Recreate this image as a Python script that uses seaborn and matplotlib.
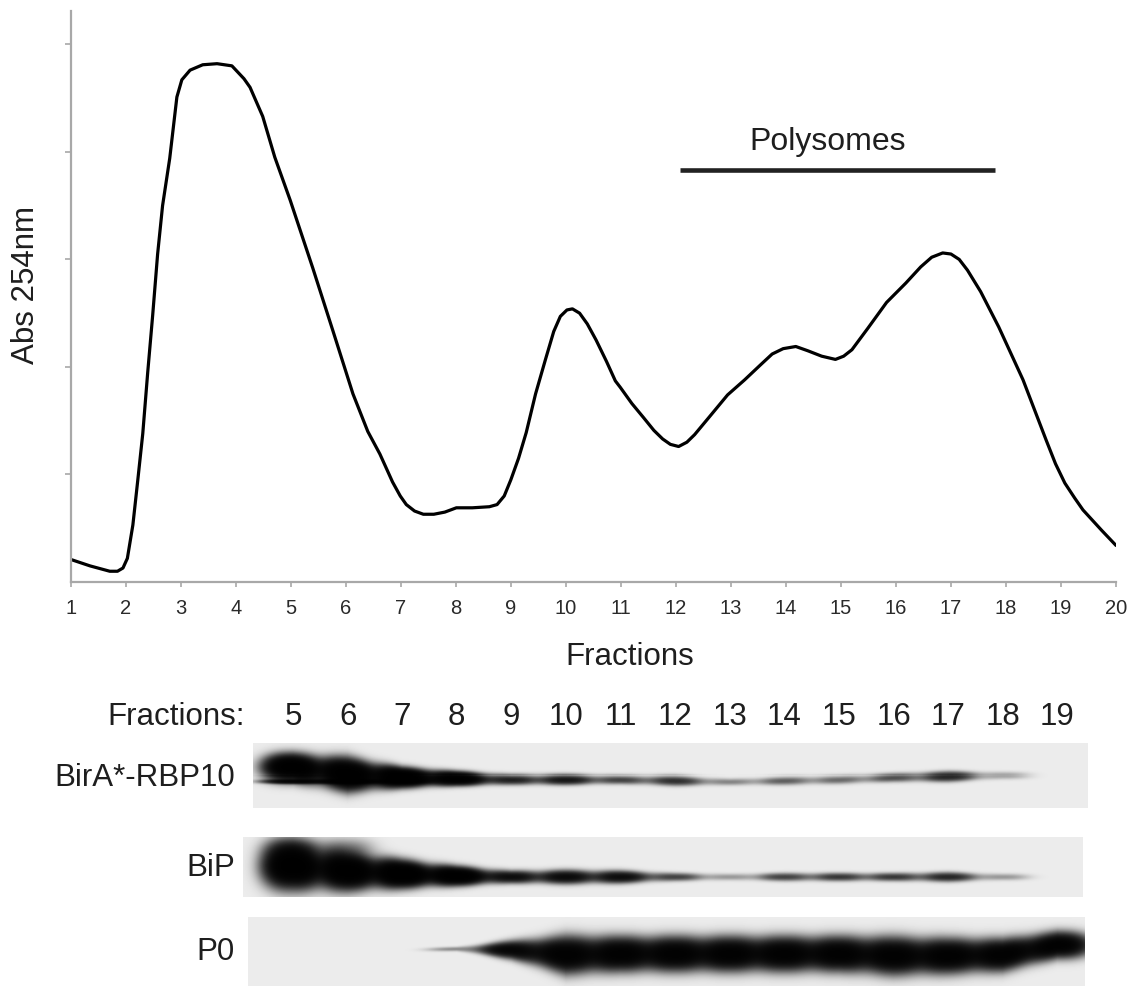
import numpy as np
import pandas as pd
import matplotlib
matplotlib.use("Agg")
import matplotlib.pyplot as plt
import matplotlib.transforms as mtransforms
import seaborn as sns

# ---------------- data ----------------
fraction = [1.00, 1.35, 1.71, 1.85, 1.95, 2.03, 2.13, 2.22, 2.31, 2.40, 2.49, 2.58, 2.67,
            2.80, 2.93, 3.02, 3.17, 3.40, 3.66, 3.93, 4.04, 4.15, 4.26, 4.49, 4.71, 4.99,
            5.40, 5.77, 6.13, 6.40, 6.62, 6.85, 6.99, 7.10, 7.25, 7.41, 7.60, 7.80, 8.01,
            8.30, 8.61, 8.75, 8.88, 9.00, 9.14, 9.28, 9.45, 9.63, 9.78, 9.90, 10.02, 10.12,
            10.25, 10.39, 10.55, 10.74, 10.90, 10.99, 11.20, 11.41, 11.60, 11.76, 11.90,
            12.05, 12.20, 12.34, 12.60, 12.94, 13.25, 13.54, 13.75, 13.95, 14.18, 14.40,
            14.65, 14.90, 15.05, 15.20, 15.49, 15.83, 16.18, 16.45, 16.65, 16.85, 17.00,
            17.15, 17.30, 17.54, 17.87, 18.31, 18.73, 18.90, 19.07, 19.25, 19.40, 19.74, 20.00]
absorbance = [0.21, 0.15, 0.10, 0.10, 0.13, 0.22, 0.53, 0.95, 1.38, 1.95, 2.48, 3.05, 3.50,
              3.94, 4.51, 4.67, 4.76, 4.81, 4.82, 4.80, 4.74, 4.68, 4.60, 4.33, 3.95, 3.55,
              2.92, 2.33, 1.75, 1.40, 1.19, 0.93, 0.80, 0.72, 0.66, 0.63, 0.63, 0.65, 0.69,
              0.69, 0.70, 0.72, 0.80, 0.95, 1.15, 1.39, 1.75, 2.07, 2.33, 2.47, 2.53, 2.54,
              2.50, 2.40, 2.25, 2.05, 1.87, 1.81, 1.66, 1.53, 1.41, 1.33, 1.28,
              1.26, 1.30, 1.37, 1.53, 1.74, 1.88, 2.02, 2.12, 2.17, 2.19, 2.15,
              2.10, 2.07, 2.10, 2.16, 2.36, 2.60, 2.78, 2.93, 3.02, 3.06, 3.05,
              3.00, 2.90, 2.70, 2.37, 1.88, 1.32, 1.10, 0.92, 0.78, 0.67, 0.48, 0.34]

x_ticks = list(range(1, 21))
polysome_range = [12.08, 17.80]
polysome_label = "Polysomes"

blot_lanes = list(range(5, 20))
blot_names = ["BirA*-RBP10", "BiP", "P0"]
# relative band intensity per lane (5..19)
birA_intensity = [1.80, 1.80, 2.00, 1.60, 0.55, 0.65, 0.35, 0.45, 0.16, 0.25, 0.22, 0.30, 0.50, 0.10, 0.00]
birA_lower_intensity = [0.80, 1.00, 0.50, 0, 0, 0, 0, 0, 0, 0, 0, 0, 0, 0, 0]
bip_intensity = [1.80, 1.80, 2.00, 1.80, 0.80, 0.85, 0.80, 0.35, 0.12, 0.35, 0.40, 0.40, 0.50, 0.12, 0.00]
bip_smear_intensity = [0.25, 0.15, 0, 0, 0, 0, 0, 0, 0, 0, 0, 0, 0, 0, 0]
p0_intensity = [0.00, 0.00, 0.00, 0.14, 1.00, 1.30, 1.30, 1.30, 1.30, 1.30, 1.30, 1.30, 1.30, 1.30, 1.30]
# band centre (px below panel top) and half thickness per lane
birA_center = [25, 32, 35, 36, 37, 37, 37, 38, 39, 38, 37, 35, 34, 33, 33]
birA_half = [10, 12, 7, 5, 4, 4, 3.5, 4, 3, 3.5, 3.5, 3.5, 4, 3, 3]
bip_center = [29, 34, 37, 39, 40, 40, 40, 40, 40, 40, 40, 40, 40, 40, 40]
bip_half = [17, 14, 10, 7, 5, 5.5, 5, 3.5, 3, 3.5, 3.5, 3.5, 4, 3, 3]
p0_center = [33, 33, 33, 32, 33, 38, 37, 37, 37, 37, 37, 39, 39, 38, 28]
p0_half = [2, 2, 2, 2, 7, 14, 13, 13, 13, 13, 13, 14, 13, 12, 10]

# ---------------- style ----------------
sns.set_theme(style="white")
plt.rcParams["font.family"] = ["Liberation Sans", "DejaVu Sans"]
txt_col = "#1e1e1e"
spine_col = "#a8a8a8"

W, H = 1131, 986
fig = plt.figure(figsize=(W / 100, H / 100), dpi=100)

def fr(x0, y0, x1, y1):
    return [x0 / W, 1 - y1 / H, (x1 - x0) / W, (y1 - y0) / H]

# ---------------- profile ----------------
ax = fig.add_axes(fr(70.7, 11, 1116, 582))
df = pd.DataFrame({"Fraction": fraction, "Abs": absorbance})
sns.lineplot(data=df, x="Fraction", y="Abs", ax=ax, color="black", lw=2.3, sort=False)
for ln in ax.lines:
    ln.set_solid_joinstyle("round")
ax.set_xlim(1, 20)
ax.set_ylim(0, 5.31)
ax.set_xticks(x_ticks)
ax.set_xticklabels([str(t) for t in x_ticks], fontsize=14.5, color="#2a2a2a")
ax.set_yticks([1, 2, 3, 4, 5])
ax.set_yticklabels([])
ax.set_xlabel("")
ax.set_ylabel("")
for s in ["top", "right"]:
    ax.spines[s].set_visible(False)
for s in ["left", "bottom"]:
    ax.spines[s].set_color(spine_col)
    ax.spines[s].set_linewidth(1.6)
ax.tick_params(axis="x", direction="out", length=3.5, width=1.2, color=spine_col, pad=9, bottom=True)
ax.tick_params(axis="y", direction="out", length=4.5, width=1.2, color=spine_col, left=True)
ax.plot(polysome_range, [3.83, 3.83], color="#222222", lw=3.3, solid_capstyle="butt")
ax.text(np.mean(polysome_range) - 0.18, 4.09, polysome_label, fontsize=23, ha="center",
        va="center", color=txt_col)

fig.text(26 / W, 1 - 285 / H, "Abs 254nm", rotation=90, fontsize=22.5, ha="center",
         va="center", color=txt_col)
fig.text(630 / W, 1 - 657 / H, "Fractions", fontsize=22.5, ha="center", va="center", color=txt_col)

# ---------------- blots ----------------
def lane_of(px):
    return 5 + (px - 293) / 54.6

def draw_blot(box, bands, label, label_y):
    x0, y0, x1, y1 = box
    bx = fig.add_axes(fr(x0, y0, x1, y1))
    xmin, xmax = lane_of(x0), lane_of(x1)
    hgt = y1 - y0
    nx, ny = int(x1 - x0), int(y1 - y0)
    xs = xmin + (np.arange(nx) + 0.5) * (xmax - xmin) / nx
    ys = (np.arange(ny) + 0.5) * hgt / ny
    X, Y = np.meshgrid(xs, ys)
    S = np.zeros_like(X)
    for inten, cen, half, w in bands:
        A = np.zeros_like(xs)
        for l, I in zip(blot_lanes, inten):
            A += I * np.exp(-np.abs((xs - l) / w) ** 2.5)
        c = np.interp(xs, blot_lanes, cen)
        h = np.interp(xs, blot_lanes, half)
        S += A[None, :] * np.exp(-((Y - c[None, :]) / h[None, :]) ** 2)
    img = 0.925 * np.exp(-3.6 * S)
    bx.imshow(img, cmap="gray", vmin=0, vmax=1, extent=(xmin, xmax, hgt, 0),
              aspect="auto", interpolation="nearest")
    bx.set_xlim(xmin, xmax)
    bx.set_ylim(hgt, 0)
    bx.set_xticks([])
    bx.set_yticks([])
    for s in bx.spines.values():
        s.set_visible(False)
    fig.text(235 / W, 1 - label_y / H, label, fontsize=22.5, ha="right", va="center", color=txt_col)
    return bx

b1 = draw_blot((253, 743, 1088, 808),
               [(birA_intensity, birA_center, birA_half, 0.45),
                (birA_lower_intensity, [38.5] * 15, [2.0] * 15, 0.5)],
               blot_names[0], 778)
draw_blot((243, 837, 1083, 897),
          [(bip_intensity, bip_center, bip_half, 0.45),
           (bip_smear_intensity, [12] * 15, [10] * 15, 0.45)],
          blot_names[1], 868)
draw_blot((248, 917, 1085, 986), [(p0_intensity, p0_center, p0_half, 0.5)], blot_names[2], 952)

trans = mtransforms.blended_transform_factory(b1.transData, fig.transFigure)
for l in blot_lanes:
    b1.text(l, 1 - 717 / H, str(l), transform=trans, fontsize=22.5, ha="center", va="center",
            color=txt_col)
fig.text(245 / W, 1 - 717 / H, "Fractions:", fontsize=22.5, ha="right", va="center", color=txt_col)

fig.savefig("out.png", dpi=100)
